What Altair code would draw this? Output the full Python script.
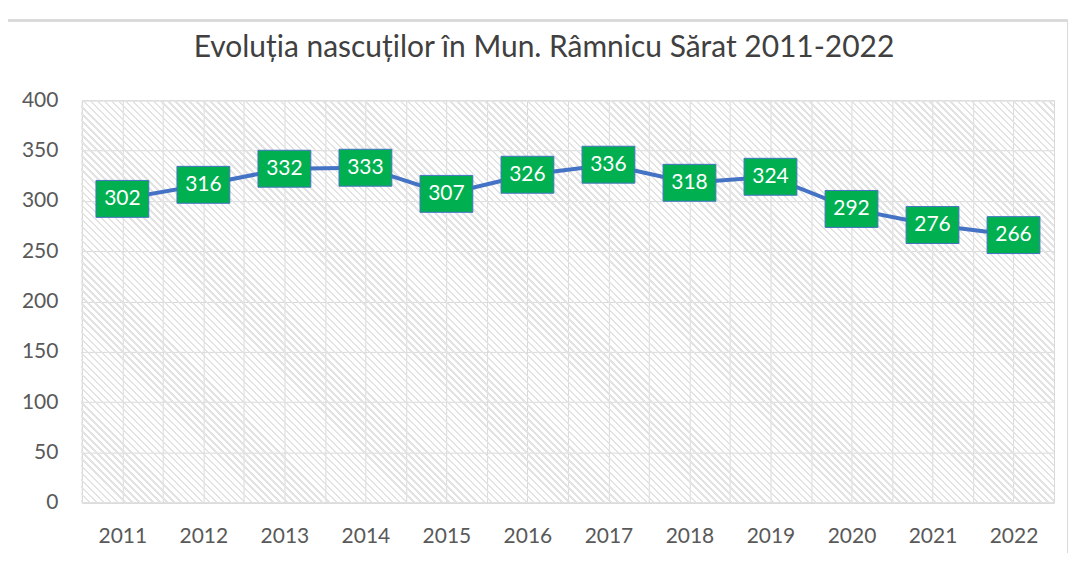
import altair as alt
import pandas as pd

years = [2011, 2012, 2013, 2014, 2015, 2016, 2017, 2018, 2019, 2020, 2021, 2022]
births = [302, 316, 332, 333, 307, 326, 336, 318, 324, 292, 276, 266]
y_ticks = [0, 50, 100, 150, 200, 250, 300, 350, 400]
title_text = "Evoluția nascuților în Mun. Râmnicu Sărat 2011-2022"

df = pd.DataFrame({"year": years, "value": births})

W, H = 974, 403
FONT = "Lato"
GRID = "#d9d9d9"

# diagonal hatch for the plot background (style only)
n_stripes = 195
stops = []
for i in range(n_stripes):
    a = i / n_stripes
    b = (i + 0.35) / n_stripes
    c = (i + 1) / n_stripes
    stops += [
        alt.GradientStop(offset=a, color="#e3e3e3"),
        alt.GradientStop(offset=b, color="#e3e3e3"),
        alt.GradientStop(offset=b, color="rgba(255,255,255,0)"),
        alt.GradientStop(offset=c, color="rgba(255,255,255,0)"),
    ]
s = (W + H) / (W * W + H * H)
hatch = alt.Gradient(gradient="linear", stops=stops, x1=0, y1=1, x2=s * W, y2=1 - s * H)

x_vals = [years[0] - 0.5 + 0.5 * i for i in range(2 * len(years) + 1)]

x_enc = alt.X(
    "year:Q",
    scale=alt.Scale(domain=[years[0] - 0.5, years[-1] + 0.5], nice=False, zero=False),
    axis=alt.Axis(
        values=x_vals,
        labelExpr="datum.value % 1 === 0 ? format(datum.value, 'd') : ''",
        grid=True, gridColor=GRID, ticks=False, domainColor=GRID,
        labelFont=FONT, labelFontSize=21, labelColor="#595959",
        labelPadding=23, labelOverlap=False, title=None,
    ),
)
y_enc = alt.Y(
    "value:Q",
    scale=alt.Scale(domain=[0, 400], nice=False),
    axis=alt.Axis(
        values=y_ticks, grid=True, gridColor=GRID, ticks=False, domain=False,
        labelFont=FONT, labelFontSize=21, labelColor="#595959",
        labelPadding=24, title=None,
    ),
)

bg = alt.Chart(df).mark_rect(fill=hatch, strokeWidth=0).encode(
    x=alt.value(0), x2=alt.value(W), y=alt.value(0), y2=alt.value(H)
)

line = alt.Chart(df).mark_line(color="#4472C4", strokeWidth=4).encode(x=x_enc, y=y_enc)

boxes = alt.Chart(df).mark_point(
    shape="M-1.43,-1H1.43V1H-1.43Z", size=1369, filled=True,
    fill="#00B050", stroke="#4472C4", strokeWidth=1, opacity=1,
    fillOpacity=1, strokeOpacity=1,
).encode(x=x_enc, y=y_enc)

labels = alt.Chart(df).mark_text(
    color="white", font=FONT, fontSize=21, align="center", baseline="middle"
).encode(x=x_enc, y=y_enc, text="value:Q")

border = alt.Chart(df).mark_rect(fill="transparent", stroke=GRID, strokeWidth=1.5).encode(
    x=alt.value(-76), x2=alt.value(988), y=alt.value(-80), y2=alt.value(480)
)

title = alt.Chart(df.head(1)).mark_text(
    text=title_text, font=FONT, fontSize=30, color="#404040",
    align="center", baseline="alphabetic",
).encode(x=alt.value(463), y=alt.value(-43))

chart = alt.layer(bg, line, boxes, labels, border, title).properties(
    width=W, height=H,
    autosize=alt.AutoSizeParams(type="none"),
    padding={"left": 74, "top": 92, "right": 14, "bottom": 50},
).configure_view(stroke=None).configure(background="white")

chart.save("out.html", embed_options={"renderer": "svg", "actions": False})
